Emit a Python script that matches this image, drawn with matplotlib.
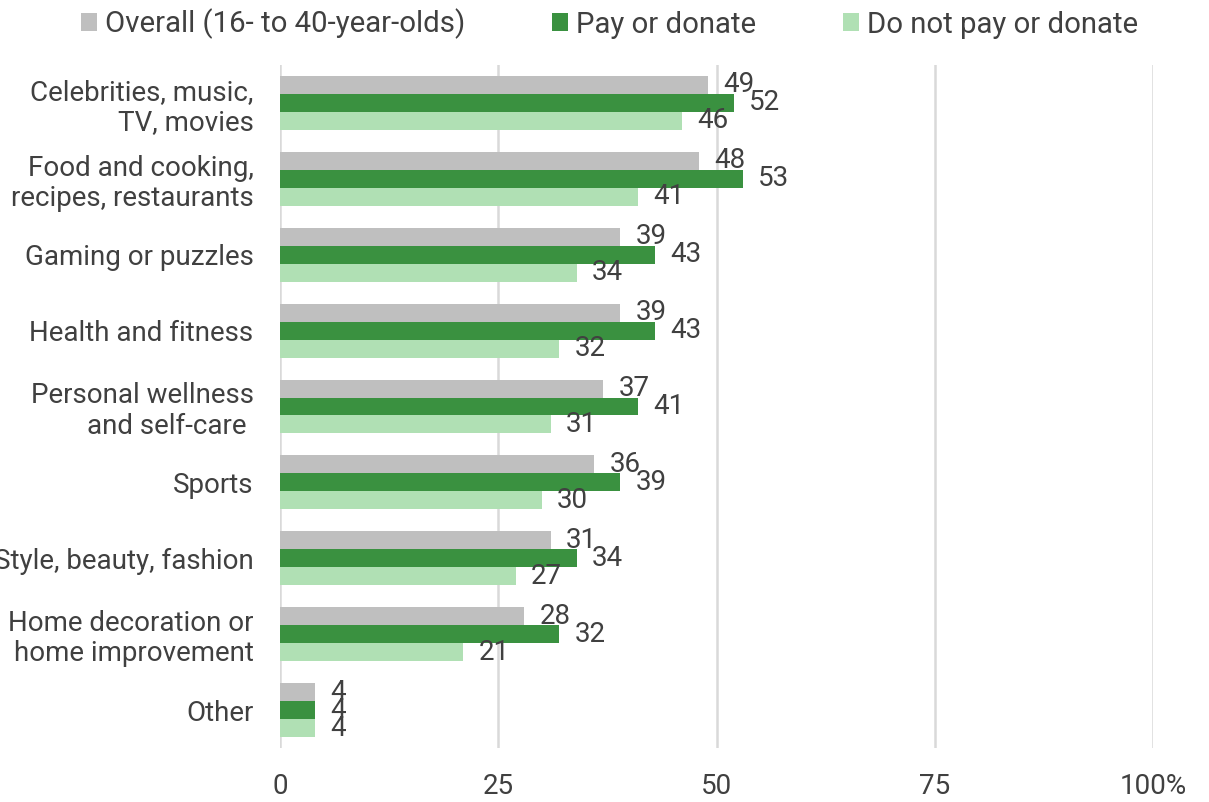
import numpy as np
import matplotlib.pyplot as plt

plt.rcParams['font.family'] = ['Roboto', 'DejaVu Sans']

categories = ["Celebrities, music,\nTV, movies", "Food and cooking,\nrecipes, restaurants",
              "Gaming or puzzles", "Health and fitness", "Personal wellness\nand self-care ",
              "Sports", "Style, beauty, fashion", "Home decoration or\nhome improvement", "Other"]
overall = [49, 48, 39, 39, 37, 36, 31, 28, 4]
pay = [52, 53, 43, 43, 41, 39, 34, 32, 4]
no_pay = [46, 41, 34, 32, 31, 30, 27, 21, 4]
series_names = ["Overall (16- to 40-year-olds)", "Pay or donate", "Do not pay or donate"]
colors = ["#bfbfbf", "#3a9140", "#b0e0b4"]

text_color = "#404040"
fs = 20

fig = plt.figure(figsize=(12.09, 8.02), dpi=100)
ax = fig.add_axes([0.2316, 0.0673, 0.7221, 0.8517])

y = np.arange(len(categories))
h = 0.237
for k, (vals, name, col) in enumerate(zip([overall, pay, no_pay], series_names, colors)):
    pos = y + (k - 1) * h
    ax.barh(pos, vals, height=h, color=col, label=name, zorder=3)
    for p, v in zip(pos, vals):
        ax.annotate(str(v), (v, p), xytext=(11, 0), textcoords="offset points",
                    va="center", ha="left", fontsize=fs, color=text_color, zorder=4)

ax.set_xlim(0, 100)
ax.set_ylim(len(categories) - 0.5, -0.5)
ax.set_yticks(y)
ax.set_yticklabels(categories, fontsize=fs, color=text_color, linespacing=1.15)
ax.set_xticks([0, 25, 50, 75, 100])
ax.set_xticklabels(["0", "25", "50", "75", "100%"], fontsize=fs, color=text_color)
ax.tick_params(axis="both", length=0)
ax.tick_params(axis="y", pad=19)
ax.tick_params(axis="x", pad=18)
ax.grid(axis="x", color="#d9d9d9", linewidth=1.8, zorder=0)
for s in ax.spines.values():
    s.set_visible(False)

handles, labels = ax.get_legend_handles_labels()
fig.legend(handles, labels, loc="center left", bbox_to_anchor=(0.067, 0.970), ncol=3,
           frameon=False, fontsize=21.2, handlelength=0.54, handleheight=0.54,
           handletextpad=0.27, columnspacing=2.95, borderpad=0, borderaxespad=0,
           labelcolor=text_color)

fig.savefig("out.png", dpi=100)
